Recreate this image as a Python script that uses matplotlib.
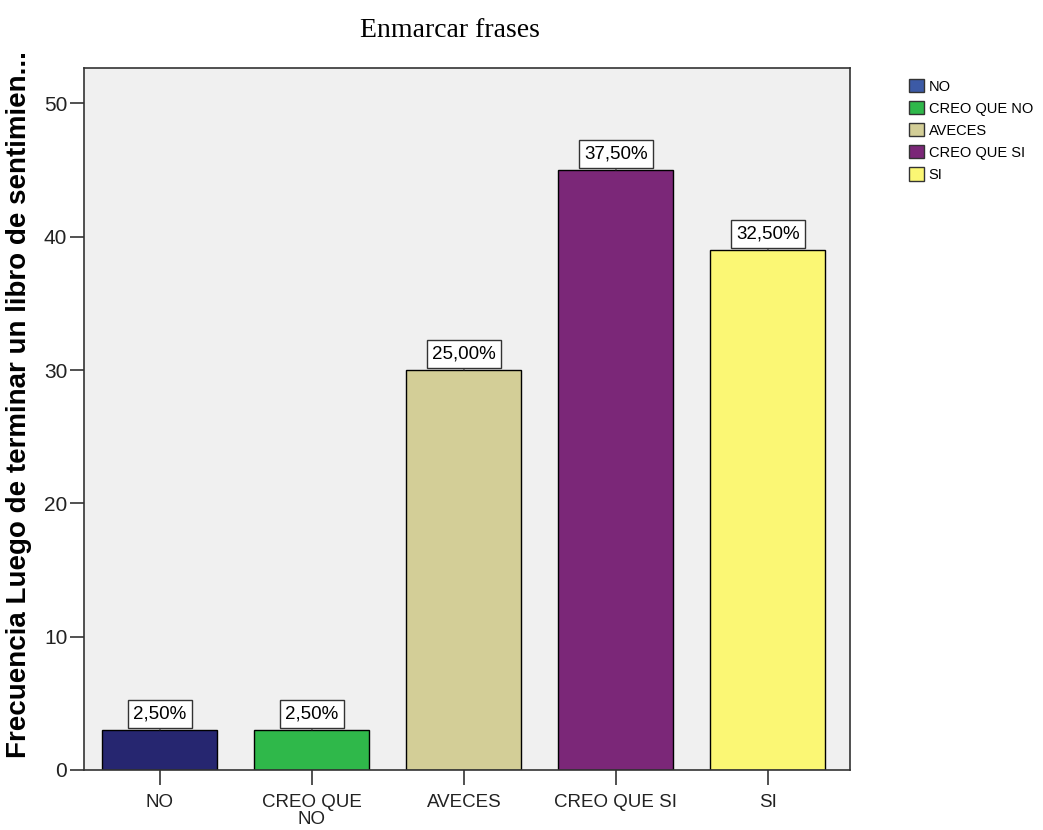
import matplotlib.pyplot as plt
from matplotlib.patches import Patch

categories = ["NO", "CREO QUE NO", "AVECES", "CREO QUE SI", "SI"]
tick_labels = ["NO", "CREO QUE\nNO", "AVECES", "CREO QUE SI", "SI"]
counts = [3, 3, 30, 45, 39]
pct_labels = ["2,50%", "2,50%", "25,00%", "37,50%", "32,50%"]
bar_colors = ["#262670", "#2fb84a", "#d3ce97", "#7b2778", "#fbf774"]
legend_colors = ["#3c5aa6", "#2fb84a", "#d3ce97", "#7b2778", "#fbf774"]

plt.rcParams["font.family"] = ["Liberation Sans", "DejaVu Sans"]

fig = plt.figure(figsize=(10.43, 8.3), dpi=100)
ax = fig.add_axes([0.0805, 0.0723, 0.7345, 0.8457])
ax.set_facecolor("#f0f0f0")

x = list(range(len(categories)))
ax.bar(x, counts, width=0.757, color=bar_colors, edgecolor="black", linewidth=1.0, zorder=2)

for xi, v, lab in zip(x, counts, pct_labels):
    ax.annotate(lab, xy=(xi, v), xytext=(0, 11.5), textcoords="offset points",
                ha="center", va="center", fontsize=13.5, zorder=3,
                bbox=dict(boxstyle="square,pad=0.28", fc="white", ec="#333333", lw=1.0),
                arrowprops=dict(arrowstyle="-", color="#333333", lw=0.8,
                                shrinkA=0, shrinkB=0))

ax.set_xlim(-0.5, 4.54)
ax.set_ylim(0, 52.65)
ax.set_yticks([0, 10, 20, 30, 40, 50])
ax.set_xticks(x)
ax.set_xticklabels(tick_labels, fontsize=13.5, linespacing=1.05)
ax.tick_params(axis="y", labelsize=15, length=10, width=1.2, color="#333333",
               labelcolor="#222222", pad=2)
ax.tick_params(axis="x", length=11, width=1.2, color="#333333", labelcolor="#222222", pad=6)
for s in ax.spines.values():
    s.set_color("#333333")
    s.set_linewidth(1.2)

ax.set_ylabel("Frecuencia Luego de terminar un libro de sentimien...",
              fontsize=20, fontweight="bold")
ax.yaxis.set_label_coords(-0.068, 0.52)
fig.text(0.431, 0.963, "Enmarcar frases", ha="center", va="center",
         fontsize=20, family=["Liberation Serif", "DejaVu Serif"])

handles = [Patch(facecolor=c, edgecolor="#333333", linewidth=1.0) for c in legend_colors]
fig.legend(handles, categories, loc="upper left", bbox_to_anchor=(0.8715, 0.905),
           frameon=False, fontsize=10.5, handlelength=1.05, handleheight=1.05,
           handletextpad=0.3, labelspacing=0.5, borderaxespad=0, borderpad=0)

fig.savefig("out.png", dpi=100)
